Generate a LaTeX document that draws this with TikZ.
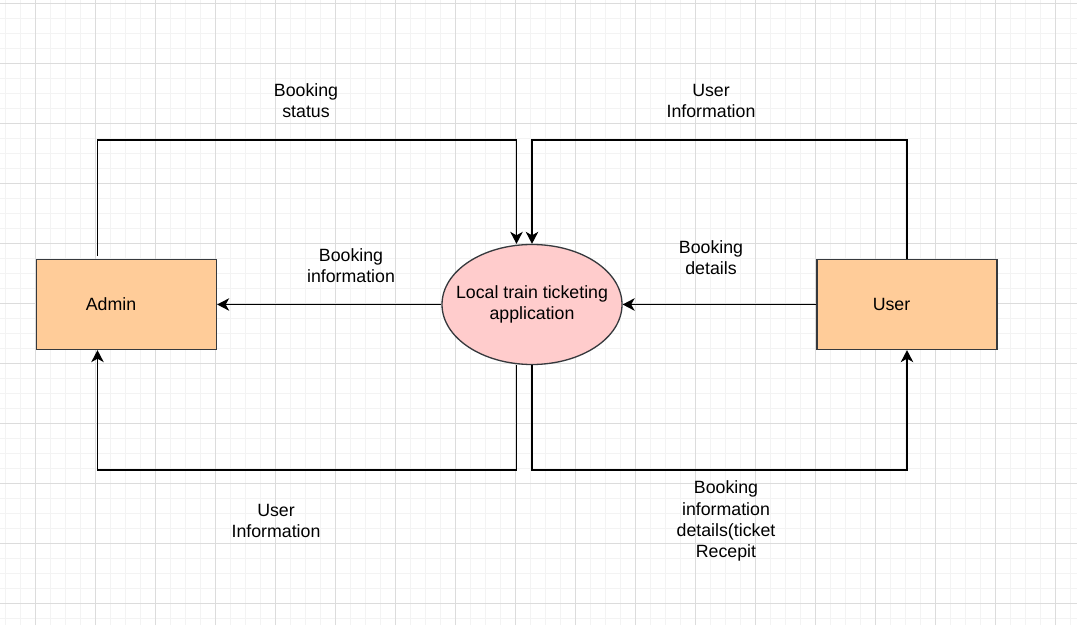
\documentclass[tikz,border=0pt]{standalone}
\usepackage{fontspec}
\setmainfont{Liberation Sans}
\usetikzlibrary{shapes,arrows.meta,positioning,calc}

\definecolor{boxfill}{HTML}{FFCC99}
\definecolor{ellfill}{HTML}{FFCCCC}
\definecolor{edgegray}{HTML}{36393D}
\definecolor{gridmajor}{HTML}{DCDCDC}
\definecolor{gridminor}{HTML}{F3F3F3}

\tikzset{
    entity/.style={draw=edgegray, fill=boxfill, line width=0.75pt, minimum width=3.6cm, minimum height=1.8cm, inner sep=0pt},
    process/.style={ellipse, draw=edgegray, fill=ellfill, line width=0.75pt, minimum width=3.6cm, minimum height=2.4cm, inner sep=0pt},
    flow/.style={line width=0.8pt, -{Stealth[length=2.4mm, width=2.5mm, inset=0.7mm]}},
    lbl/.style={align=center},
}

\begin{document}
\begin{tikzpicture}[every node/.style={font=\fontsize{10.1}{12}\selectfont}]
    \useasboundingbox (0, 0) rectangle (21.54, 12.5);
    % grid
    \foreach \x in {0,...,71} \draw [gridminor] ({0.1+0.3*\x}, 0) -- ++(0, 12.5);
    \foreach \y in {0,...,41} \draw [gridminor] (0, {12.44-0.3*\y}) -- ++(21.54, 0);
    \foreach \x in {0,...,17} \draw [gridmajor] ({0.7+1.2*\x}, 0) -- ++(0, 12.5);
    \foreach \y in {0,...,10} \draw [gridmajor] (0, {12.44-1.2*\y}) -- ++(21.54, 0);

    % entities and process
    \node [entity] (admin) at (2.53, 6.41) {};
    \node [entity] (user) at (18.14, 6.41) {};
    \node [process] (ell) at (10.64, 6.41) {};
    \node at ([xshift=-0.31cm]admin.center) (admintext) {Admin};
    \node at ([xshift=-0.31cm]user.center) (usertext) {User};
    \node [lbl] at (ell.center) (elltext) {Local train ticketing\\application};

    \coordinate (toprail) at (0, 9.7);
    \coordinate (botrail) at (0, 3.1);
    \coordinate (admtop) at ([xshift=-0.58cm, yshift=0.06cm]admin.north);
    \coordinate (admbot) at ([xshift=-0.58cm]admin.south);
    \coordinate (elltopl) at ([xshift=-0.31cm]ell.north);
    \coordinate (ellbotl) at ([xshift=-0.31cm]ell.south);

    % flows
    \draw [flow] (admtop) |- (toprail -| elltopl) -- (elltopl);
    \draw [flow] (user.north) |- (toprail -| ell.north) -- (ell.north);
    \draw [flow] (ell.west) -- (admin.east);
    \draw [flow] (user.west) -- (ell.east);
    \draw [flow] (ellbotl) |- (botrail -| admbot) -- (admbot);
    \draw [flow] (ell.south) |- (botrail -| user.south) -- (user.south);

    % flow labels
    \node [lbl] (bstatus) at (6.12, 10.48) {Booking\\status};
    \node [lbl] (uinfotop) at (14.22, 10.48) {User\\Information};
    \node [lbl] (binfo) at (7.02, 7.18) {Booking\\information};
    \node [lbl] (bdetails) at (14.22, 7.34) {Booking\\details};
    \node [lbl] (uinfobot) at (5.52, 2.08) {User\\Information};
    \node [lbl] (breceipt) at (14.52, 2.08) {Booking\\information\\details(ticket\\Recepit};
\end{tikzpicture}
\end{document}
